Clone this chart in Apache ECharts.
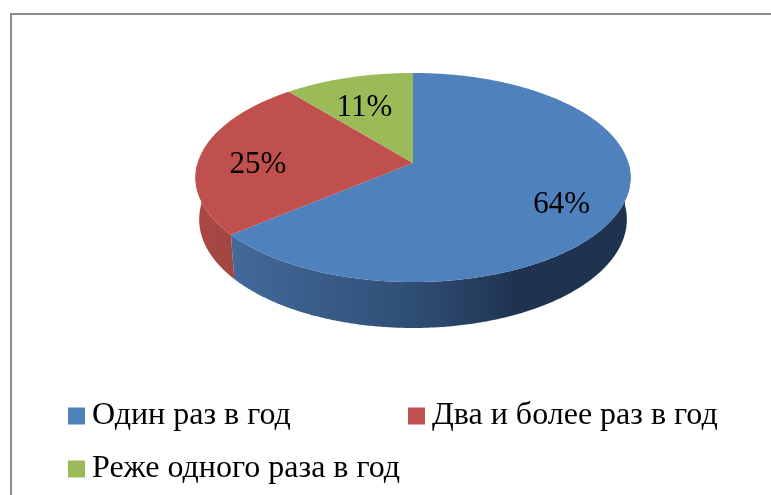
<!DOCTYPE html>
<html>
<head>
<meta charset="utf-8">
<script src="https://cdn.jsdelivr.net/npm/echarts@6/dist/echarts.min.js"></script>
<style>
  html, body { margin: 0; padding: 0; background: #ffffff; }
  #chart { width: 771px; height: 495px; }
</style>
</head>
<body>
<div id="chart"></div>
<script>
// ---- data ----
const categories = ['Один раз в год', 'Два и более раз в год', 'Реже одного раза в год'];
const values = [64, 25, 11];
const topColors = ['#4f81bd', '#c0504d', '#9bbb59'];

// ---- style / geometry (not data) ----
const FONT = "'Liberation Serif', 'Times New Roman', serif";
const G = {
  cx: 413, cy: 163,     // projected pie centre
  F: 1365.6, D: 6.34,   // perspective focal length and camera distance
  alpha: Math.asin(0.476), // tilt
  thick: 0.2235,        // pie thickness relative to radius
  labelR: 0.73, labelDy: 9
};
const sideStops = [
  [{offset: 0, color: '#4a74a6'}, {offset: 0.085, color: '#42699a'}, {offset: 0.5, color: '#2f4e74'},
   {offset: 0.74, color: '#1f3350'}, {offset: 1, color: '#1f3350'}],
  [{offset: 0, color: '#a94a45'}, {offset: 0.085, color: '#a2443f'}, {offset: 1, color: '#8a3a36'}],
  [{offset: 0, color: '#7d9a45'}, {offset: 1, color: '#5c7333'}]
];

const sa = Math.sin(G.alpha), ca = Math.cos(G.alpha);
function proj(deg, rho, h) {
  const t = deg * Math.PI / 180;
  const den = G.D - h * sa + rho * Math.sin(t) * ca;
  return [
    G.cx + G.F * rho * Math.cos(t) / den,
    G.cy - G.F * (h * ca + rho * Math.sin(t) * sa) / den
  ];
}

function renderSlice(params, api) {
  const i = params.seriesIndex;
  const total = values.reduce((a, b) => a + b, 0);
  let cum = 0;
  for (let k = 0; k < i; k++) cum += values[k];
  const a0 = 90 - 360 * cum / total;
  const a1 = a0 - 360 * api.value(0) / total;
  const children = [];

  // outer wall (front half only)
  [[-180, 0], [-540, -360]].forEach(function (rng) {
    const hi = Math.min(a0, rng[1]);
    const lo = Math.max(a1, rng[0]);
    if (hi - lo > 0.01) {
      const pts = [];
      const n = Math.max(2, Math.ceil((hi - lo) / 0.5));
      for (let s = 0; s <= n; s++) pts.push(proj(hi - (hi - lo) * s / n, 1, 0));
      for (let s = n; s >= 0; s--) pts.push(proj(hi - (hi - lo) * s / n, 1, -G.thick));
      children.push({
        type: 'polygon', z2: 1,
        shape: { points: pts },
        style: { fill: new echarts.graphic.LinearGradient(196, 0, 631, 0, sideStops[i], true) }
      });
    }
  });

  // top face
  const top = [[G.cx, G.cy]];
  const n = Math.max(2, Math.ceil((a0 - a1) / 0.5));
  for (let s = 0; s <= n; s++) top.push(proj(a0 - (a0 - a1) * s / n, 1, 0));
  children.push({
    type: 'polygon', z2: 10,
    shape: { points: top },
    style: { fill: topColors[i] }
  });

  // data label
  const mid = (a0 + a1) / 2;
  const lp = proj(mid, G.labelR, 0);
  children.push({
    type: 'text', z2: 20,
    x: lp[0], y: lp[1] + G.labelDy,
    style: {
      text: Math.round(api.value(0) / total * 100) + '%',
      fill: '#000000', fontSize: 31, fontFamily: FONT,
      align: 'center', verticalAlign: 'middle'
    }
  });
  return { type: 'group', children: children };
}

const legendText = { fontFamily: FONT, fontSize: 32, color: '#000', lineHeight: 34, padding: [0, 0, 0, 2] };
const chart = echarts.init(document.getElementById('chart'), null, { renderer: 'canvas' });
chart.setOption({
  animation: false,
  backgroundColor: '#ffffff',
  graphic: [{
    type: 'rect', silent: true,
    shape: { x: 11, y: 14, width: 800, height: 520 },
    style: { fill: 'none', stroke: '#8c8c8c', lineWidth: 2 }
  }],
  legend: [{
    orient: 'vertical', left: 68, top: 399, itemGap: 19, padding: 0,
    icon: 'rect', itemWidth: 17, itemHeight: 17, selectedMode: false,
    data: [categories[0], categories[2]],
    textStyle: legendText
  }, {
    orient: 'vertical', left: 408, top: 399, itemGap: 19, padding: 0,
    icon: 'rect', itemWidth: 17, itemHeight: 17, selectedMode: false,
    data: [categories[1]],
    textStyle: legendText
  }],
  series: categories.map(function (name, i) {
    return {
      type: 'custom', name: name, coordinateSystem: 'none', silent: true,
      itemStyle: { color: topColors[i] },
      renderItem: renderSlice,
      data: [values[i]]
    };
  })
});
</script>
</body>
</html>
